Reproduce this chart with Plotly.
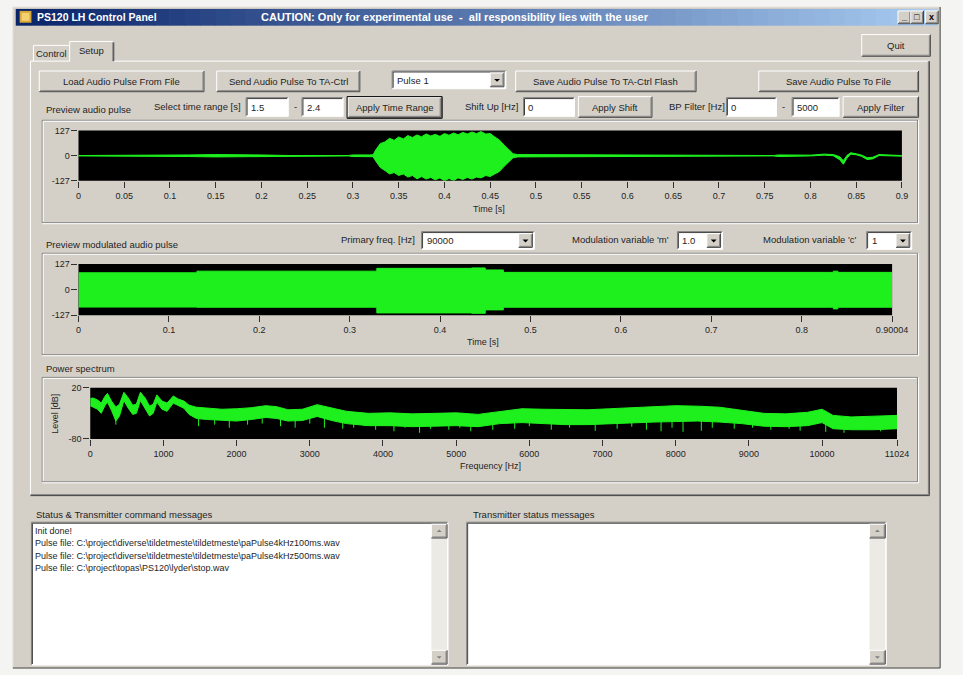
import plotly.graph_objects as go

W, H = 963, 675

# ---------------- data ----------------
# Preview audio pulse: envelope of the waveform (time [s], upper, lower)
pulse_t = [0.0, 0.09, 0.095, 0.12, 0.15, 0.18, 0.20, 0.22, 0.23, 0.295, 0.30, 0.318,
           0.322, 0.325, 0.33, 0.335, 0.34, 0.345, 0.35, 0.355, 0.36, 0.365, 0.37, 0.375,
           0.38, 0.385, 0.39, 0.395, 0.40, 0.405, 0.41, 0.415, 0.42, 0.425, 0.43, 0.435,
           0.44, 0.445, 0.45, 0.455, 0.46, 0.465, 0.47, 0.475,
           0.48, 0.52, 0.56, 0.60, 0.65, 0.76, 0.765, 0.79, 0.80, 0.815, 0.825,
           0.832, 0.836, 0.840, 0.844, 0.85, 0.856, 0.862, 0.868, 0.875, 0.885, 0.89, 0.90]
pulse_hi = [1, 1, 3, 4, 6, 6, 4, 2, 1, 1, 4, 4,
            5, 30, 62, 70, 88, 78, 95, 85, 102, 92, 105, 96,
            110, 100, 108, 98, 112, 104, 115, 106, 118, 110, 120, 112,
            122, 110, 112, 95, 80, 55, 30, 10,
            6, 5, 4, 3, 1, 1, 4, 4, 3, 8, 6,
            -5, -25, 2, 15, 10, 3, -10, -8, 6, 6, 3, 1]
pulse_lo = [-1, -1, -3, -4, -6, -5, -4, -2, -1, -1, -4, -4,
            -5, -28, -60, -75, -92, -85, -100, -92, -108, -100, -117, -105,
            -118, -110, -122, -112, -127, -115, -125, -112, -120, -110, -118, -108,
            -112, -100, -105, -92, -80, -55, -30, -10,
            -6, -5, -4, -3, -1, -1, -4, -4, -1, 3, 0,
            -20, -43, -12, 8, 5, -3, -19, -16, 1, 2, -1, -2]

# Preview modulated audio pulse: envelope (time [s], upper, lower)
mod_t = [0.0, 0.129, 0.131, 0.322, 0.330, 0.435, 0.450, 0.470, 0.830, 0.835, 0.840, 0.90004]
mod_hi = [84, 84, 92, 92, 106, 108, 98, 86, 86, 92, 86, 86]
mod_lo = [-86, -86, -87, -87, -115, -117, -100, -87, -87, -95, -87, -87]

# Power spectrum: band envelope (frequency [Hz], upper dB, lower dB)
spec_f = [0, 40, 100, 150, 200, 235, 290, 350, 400, 460, 520, 580, 630, 685, 750, 810,
          860, 910, 980, 1050, 1135, 1200, 1280, 1350, 1450, 1600, 1800, 2000, 2200,
          2400, 2550, 2700, 2900, 3100, 3300, 3500, 3800, 4100, 4400, 4700, 5000, 5300,
          5600, 5900, 6200, 6500, 6800, 7100, 7400, 7700, 8000, 8300, 8600, 8900, 9200,
          9500, 9800, 10000, 10150, 10400, 10700, 11024]
spec_hi = [-1, 0, -4, -10, 3, 9, -6, -18, -12, 11, 0, -14, -12, 11, 0, -16,
           -12, 6, -6, -10, 4, -2, -6, -14, -18, -20, -22, -21, -19,
           -15, -17, -23, -22, -13, -20, -26, -30, -29, -31, -30, -29, -32,
           -26, -21, -22, -23, -23, -21, -19, -17, -15, -16, -18, -24, -30,
           -31, -28, -22, -34, -37, -36, -34]
spec_lo = [-15, -18, -22, -30, -15, -8, -24, -45, -35, -5, -20, -32, -30, -5, -20, -35,
           -30, -8, -22, -26, -10, -15, -20, -32, -40, -42, -44, -45, -42,
           -38, -40, -45, -44, -36, -44, -50, -54, -54, -56, -55, -54, -56,
           -50, -48, -50, -52, -52, -50, -48, -47, -46, -45, -47, -50, -55,
           -56, -54, -48, -60, -62, -62, -60]
# deep narrow notches in the spectrum (frequency [Hz], level [dB])
dip_f = [150, 350, 1480, 1700, 1900, 2150, 2350, 2600, 2800, 3000, 3200, 3450, 3600,
         3750, 3900, 4150, 4300, 4500, 4650, 4900, 5050, 5200, 5500, 5800, 6000, 6300,
         6550, 6900, 7200, 7400, 7600, 7800, 7950, 8100, 8350, 8500, 8800, 9050, 9300,
         9550, 9700, 10050, 10300, 10550, 10800]
dip_db = [-40, -52, -55, -52, -58, -52, -50, -55, -58, -50, -58, -60, -58,
          -55, -62, -65, -58, -68, -60, -62, -58, -65, -62, -60, -55, -62,
          -58, -64, -60, -56, -62, -65, -58, -66, -64, -58, -60, -58, -62,
          -60, -64, -66, -68, -62, -65]

pulse_ticks = [0, 0.05, 0.1, 0.15, 0.2, 0.25, 0.3, 0.35, 0.4, 0.45, 0.5, 0.55, 0.6,
               0.65, 0.7, 0.75, 0.8, 0.85, 0.9]
pulse_tick_text = ["0", "0.05", "0.1", "0.15", "0.2", "0.25", "0.3", "0.35", "0.4",
                   "0.45", "0.5", "0.55", "0.6", "0.65", "0.7", "0.75", "0.8", "0.85", "0.9"]
mod_ticks = [0, 0.1, 0.2, 0.3, 0.4, 0.5, 0.6, 0.7, 0.8, 0.90004]
mod_tick_text = ["0", "0.1", "0.2", "0.3", "0.4", "0.5", "0.6", "0.7", "0.8", "0.90004"]
amp_ticks = [-127, 0, 127]
amp_tick_text = ["-127", "0", "127"]
spec_ticks = [0, 1000, 2000, 3000, 4000, 5000, 6000, 7000, 8000, 9000, 10000, 11024]
spec_tick_text = ["0", "1000", "2000", "3000", "4000", "5000", "6000", "7000", "8000",
                  "9000", "10000", "11024"]
db_ticks = [-80, 20]
db_tick_text = ["-80", "20"]

status_lines = [
    "Init done!",
    r"Pulse file: C:\project\diverse\tildetmeste\tildetmeste\paPulse4kHz100ms.wav",
    r"Pulse file: C:\project\diverse\tildetmeste\tildetmeste\paPulse4kHz500ms.wav",
    r"Pulse file: C:\project\topas\PS120\lyder\stop.wav",
]

# ---------------- style ----------------
FONT = "Liberation Sans, Arial, sans-serif"
FACE = "#D4D0C8"
HILITE = "#FFFFFF"
SHADOW = "#808080"
DARK = "#404040"
TXT = "#1E1E1E"
GREEN = "#1EF01E"

# plot areas in pixels (left, top, right, bottom)
P1 = (77, 127.5, 917, 178.5)
P2 = (77, 263, 907, 315)
P3 = (89, 388.5, 912, 440.5)

shapes, annos = [], []


def px(x):
    return x / W


def py(y):
    return 1 - y / H


def rect(x0, y0, x1, y1, fill, line=None, lw=1):
    shapes.append(dict(type="rect", xref="paper", yref="paper", layer="below",
                       x0=px(x0), x1=px(x1), y0=py(y1), y1=py(y0),
                       fillcolor=fill,
                       line=dict(color=line if line else fill, width=lw if line else 0)))


def seg(x0, y0, x1, y1, color, w=1):
    shapes.append(dict(type="line", xref="paper", yref="paper", layer="below",
                       x0=px(x0), x1=px(x1), y0=py(y0), y1=py(y1),
                       line=dict(color=color, width=w)))


def tri(cx, cy, size=3, up=False, color="#000"):
    if up:
        p = f"M {px(cx-size)},{py(cy+1)} L {px(cx+size)},{py(cy+1)} L {px(cx)},{py(cy-size+1)} Z"
    else:
        p = f"M {px(cx-size)},{py(cy-1)} L {px(cx+size)},{py(cy-1)} L {px(cx)},{py(cy+size-1)} Z"
    shapes.append(dict(type="path", xref="paper", yref="paper", layer="below", path=p,
                       fillcolor=color, line=dict(color=color, width=0)))


def text(x, y, s, anchor="left", size=9.5, color=TXT, bold=False, angle=0):
    annos.append(dict(x=px(x), y=py(y), xref="paper", yref="paper", text=s,
                      showarrow=False, xanchor=anchor, yanchor="middle", textangle=angle,
                      font=dict(family=FONT, size=size, color=color,
                                weight="bold" if bold else "normal")))


def raised(x0, y0, x1, y1):
    rect(x0, y0, x1, y1, FACE)
    seg(x0, y0, x1, y0, HILITE)
    seg(x0, y0, x0, y1, HILITE)
    seg(x0, y1, x1, y1, DARK)
    seg(x1, y0, x1, y1, DARK)
    seg(x0 + 1, y1 - 1, x1 - 1, y1 - 1, SHADOW)
    seg(x1 - 1, y0 + 1, x1 - 1, y1 - 1, SHADOW)


def button(x0, y0, x1, y1, label, default=False):
    raised(x0, y0, x1, y1)
    if default:
        rect(x0 - 1, y0 - 1, x1 + 1, y1 + 1, "rgba(0,0,0,0)", line="#000", lw=1)
    text((x0 + x1) / 2, (y0 + y1) / 2 + 0.5, label, anchor="center")


def textbox(x0, y0, x1, y1, value="", fill="#FFFFFF"):
    rect(x0, y0, x1, y1, fill)
    seg(x0, y0, x1, y0, SHADOW)
    seg(x0, y0, x0, y1, SHADOW)
    seg(x0 + 1, y0 + 1, x1 - 1, y0 + 1, DARK)
    seg(x0 + 1, y0 + 1, x0 + 1, y1 - 1, DARK)
    seg(x0, y1, x1, y1, HILITE)
    seg(x1, y0, x1, y1, HILITE)
    if value:
        text(x0 + 3, (y0 + y1) / 2 + 0.5, value)


def combo(x0, y0, x1, y1, value):
    textbox(x0, y0, x1, y1, value)
    raised(x1 - 16, y0 + 2, x1 - 2, y1 - 2)
    tri(x1 - 9, (y0 + y1) / 2, 3)


def groupbox(x0, y0, x1, y1):
    for (a, b, c, d) in [(x0, y0, x1, y0), (x0, y0, x0, y1), (x0, y1, x1, y1), (x1, y0, x1, y1)]:
        seg(a, b, c, d, SHADOW)
    seg(x0 + 1, y0 + 1, x1 - 1, y0 + 1, HILITE)
    seg(x0 + 1, y0 + 1, x0 + 1, y1 - 1, HILITE)
    seg(x0, y1 + 1, x1 + 1, y1 + 1, HILITE)
    seg(x1 + 1, y0, x1 + 1, y1 + 1, HILITE)


def scrollbar(x0, y0, x1, y1):
    rect(x0, y0, x1, y1, "#ECEAE4")
    raised(x0, y0, x1, y0 + 14)
    tri((x0 + x1) / 2, y0 + 7, 2.5, up=True, color=SHADOW)
    raised(x0, y1 - 14, x1, y1)
    tri((x0 + x1) / 2, y1 - 7, 2.5, color=SHADOW)


# ---------------- window chrome ----------------
rect(10, 2, 956, 673, FACE)
seg(10, 2, 956, 2, "#E8E6E0")
seg(10, 2, 10, 673, "#E8E6E0")
seg(956, 2, 956, 673, DARK)
seg(10, 673, 956, 673, DARK)

# title bar gradient
c0 = (10, 36, 106)
c1 = (166, 202, 240)
N = 60
tx0, tx1 = 13, 953
for i in range(N):
    f = i / (N - 1)
    col = "rgb({},{},{})".format(*[int(round(a + (b - a) * f)) for a, b in zip(c0, c1)])
    xa = tx0 + (tx1 - tx0) * i / N
    xb = tx0 + (tx1 - tx0) * (i + 1) / N + 0.6
    rect(xa, 4, xb, 21, col)
rect(17, 6, 29, 18, "#D8A838")
rect(19, 8, 27, 16, "#F4D070")
text(33, 12.5, "PS120 LH Control Panel", size=10.5, color="#FFFFFF", bold=True)
text(261, 12.5, "CAUTION: Only for experimental use  -  all responsibility lies with the user",
     size=11, color="#FFFFFF", bold=True)
for (a, b, g) in [(913, 926, "_"), (926, 939, "\u25a1"), (941, 954, "x")]:
    raised(a, 6, b, 19)
    text((a + b) / 2, 12.5, g, anchor="center", size=9, color="#000", bold=True)

# tabs and tab page
seg(28, 57, 945, 57, HILITE)
seg(28, 57, 28, 498, HILITE)
seg(944, 57, 944, 497, SHADOW)
seg(945, 57, 945, 498, DARK)
seg(28, 497, 944, 497, SHADOW)
seg(28, 498, 945, 498, DARK)
seg(31, 41, 67, 41, HILITE)
seg(31, 41, 31, 57, HILITE)
text(49, 49, "Control", anchor="center")
rect(68, 37, 113, 58, FACE)
seg(68, 37, 112, 37, HILITE)
seg(68, 37, 68, 57, HILITE)
seg(112, 38, 112, 57, SHADOW)
seg(113, 38, 113, 57, DARK)
text(90, 46, "Setup", anchor="center")
button(876, 30, 946, 52, "Quit")

# row 1
button(37, 67, 205, 88, "Load Audio Pulse From File")
button(218, 67, 364, 88, "Send Audio Pulse To TA-Ctrl")
combo(397, 67, 513, 85, "Pulse 1")
button(523, 67, 707, 88, "Save Audio Pulse To TA-Ctrl Flash")
button(771, 67, 934, 88, "Save Audio Pulse To File")

# row 2
text(42, 106.5, "Preview audio pulse")
text(152, 103, "Select time range [s]")
textbox(248, 94, 291, 113, "1.5")
text(298, 103.5, "-", anchor="center")
textbox(305, 94, 347, 113, "2.4")
button(352, 94, 447, 114, "Apply Time Range", default=True)
text(469, 103, "Shift Up [Hz]")
textbox(531, 94, 583, 113, "0")
button(587, 93, 662, 114, "Apply Shift")
text(677, 103, "BP Filter [Hz]")
textbox(738, 94, 789, 113, "0")
text(796, 103.5, "-", anchor="center")
textbox(805, 94, 853, 113, "5000")
button(857, 93, 934, 114, "Apply Filter")

# group 1
groupbox(40, 117, 933, 221)
text(496, 207, "Time [s]", anchor="center", size=9)

# group 2
text(42, 243, "Preview modulated audio pulse")
text(343, 238, "Primary freq. [Hz]")
combo(427, 230, 542, 248, "90000")
text(578, 238, "Modulation variable 'm'")
combo(688, 230, 734, 248, "1.0")
text(773, 238, "Modulation variable 'c'")
combo(881, 230, 927, 248, "1")
groupbox(40, 252, 933, 355)
text(490, 342, "Time [s]", anchor="center", size=9)

# group 3
text(42, 369, "Power spectrum")
groupbox(40, 378, 933, 484)
text(497, 468, "Frequency [Hz]", anchor="center", size=9)
text(53, 415, "Level [dB]", anchor="center", size=9, angle=-90)

# black plot backgrounds (drawn above the window face)
for (l, t, r, b) in (P1, P2, P3):
    rect(l, t, r, b, "#000000")

# message boxes
text(32, 517, "Status & Transmitter command messages")
textbox(29, 525, 454, 670)
scrollbar(437, 527, 453, 669)
for i, s in enumerate(status_lines):
    text(31, 533.5 + 12.8 * i, s, size=9)
text(477, 517, "Transmitter status messages")
textbox(473, 525, 901, 670)
scrollbar(884, 527, 900, 669)

# ---------------- plots ----------------
fig = go.Figure()

fig.add_trace(go.Scatter(x=pulse_t, y=pulse_lo, mode="lines", line=dict(color=GREEN, width=1),
                         xaxis="x", yaxis="y", hoverinfo="skip"))
fig.add_trace(go.Scatter(x=pulse_t, y=pulse_hi, mode="lines", line=dict(color=GREEN, width=1),
                         fill="tonexty", fillcolor=GREEN, xaxis="x", yaxis="y", hoverinfo="skip"))

fig.add_trace(go.Scatter(x=mod_t, y=mod_lo, mode="lines", line=dict(color=GREEN, width=1, shape="hv"),
                         xaxis="x2", yaxis="y2", hoverinfo="skip"))
fig.add_trace(go.Scatter(x=mod_t, y=mod_hi, mode="lines", line=dict(color=GREEN, width=1, shape="hv"),
                         fill="tonexty", fillcolor=GREEN, xaxis="x2", yaxis="y2", hoverinfo="skip"))

fig.add_trace(go.Scatter(x=spec_f, y=spec_lo, mode="lines", line=dict(color=GREEN, width=1),
                         xaxis="x3", yaxis="y3", hoverinfo="skip"))
fig.add_trace(go.Scatter(x=spec_f, y=spec_hi, mode="lines", line=dict(color=GREEN, width=1),
                         fill="tonexty", fillcolor=GREEN, xaxis="x3", yaxis="y3", hoverinfo="skip"))
dx, dy = [], []
for f, d in zip(dip_f, dip_db):
    dx += [f, f, None]
    dy += [d, -40, None]
fig.add_trace(go.Scatter(x=dx, y=dy, mode="lines", line=dict(color=GREEN, width=1),
                         xaxis="x3", yaxis="y3", hoverinfo="skip"))

axis_common = dict(showgrid=False, zeroline=False, showline=False, ticks="outside",
                   ticklen=6, tickwidth=1, tickcolor="#303030", fixedrange=True,
                   tickfont=dict(family=FONT, size=9, color=TXT))

fig.update_layout(
    width=W, height=H, autosize=False,
    margin=dict(l=0, r=0, t=0, b=0, pad=0),
    paper_bgcolor="#F4F4F2", plot_bgcolor="#000000",
    showlegend=False,
    shapes=shapes, annotations=annos,
    xaxis=dict(axis_common, domain=[px(P1[0]), px(P1[2])], range=[0, 0.9], anchor="y",
               tickmode="array", tickvals=pulse_ticks, ticktext=pulse_tick_text),
    yaxis=dict(axis_common, domain=[py(P1[3]), py(P1[1])], range=[-127, 127], anchor="x",
               tickmode="array", tickvals=amp_ticks, ticktext=amp_tick_text),
    xaxis2=dict(axis_common, domain=[px(P2[0]), px(P2[2])], range=[0, 0.90004], anchor="y2",
                tickmode="array", tickvals=mod_ticks, ticktext=mod_tick_text),
    yaxis2=dict(axis_common, domain=[py(P2[3]), py(P2[1])], range=[-127, 127], anchor="x2",
                tickmode="array", tickvals=amp_ticks, ticktext=amp_tick_text),
    xaxis3=dict(axis_common, domain=[px(P3[0]), px(P3[2])], range=[0, 11024], anchor="y3",
                tickmode="array", tickvals=spec_ticks, ticktext=spec_tick_text),
    yaxis3=dict(axis_common, domain=[py(P3[3]), py(P3[1])], range=[-80, 20], anchor="x3",
                tickmode="array", tickvals=db_ticks, ticktext=db_tick_text),
)

fig.write_html("out.html", config=dict(displayModeBar=False),
               post_script="document.body.style.margin='0';document.body.style.overflow='hidden';")
